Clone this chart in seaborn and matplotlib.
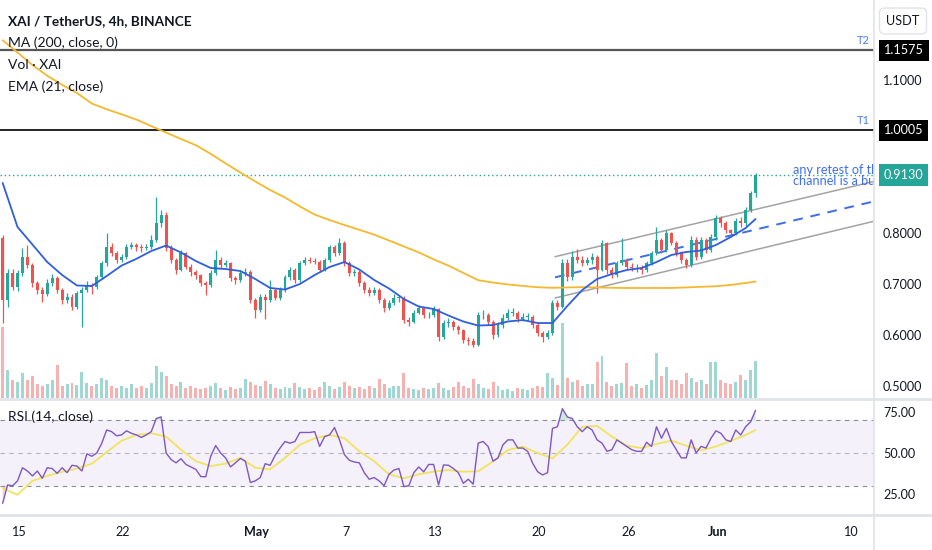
import numpy as np
import pandas as pd
import matplotlib
matplotlib.use("Agg")
import matplotlib.pyplot as plt
import matplotlib.transforms as mtransforms
from matplotlib.lines import Line2D
from matplotlib import font_manager
import seaborn as sns

# ---------------- data ----------------
FIRST_CANDLE = "2024-04-13 21:36"   # 8h candles
first_open = 0.789
closes = [
    0.668, 0.721, 0.694, 0.721, 0.752, 0.736, 0.701, 0.688, 0.680, 0.701,
    0.711, 0.688, 0.668, 0.674, 0.654, 0.681, 0.688, 0.697, 0.694, 0.713,
    0.740, 0.772, 0.760, 0.746, 0.752, 0.772, 0.776, 0.772, 0.770, 0.772,
    0.786, 0.819, 0.835, 0.770, 0.746, 0.727, 0.760, 0.733, 0.723, 0.717,
    0.701, 0.698, 0.721, 0.746, 0.736, 0.740, 0.711, 0.707, 0.721, 0.723,
    0.668, 0.648, 0.674, 0.668, 0.688, 0.672, 0.688, 0.713, 0.727, 0.707,
    0.740, 0.746, 0.744, 0.742, 0.727, 0.746, 0.772, 0.760, 0.780, 0.740,
    0.721, 0.723, 0.701, 0.688, 0.681, 0.688, 0.668, 0.652, 0.662, 0.672,
    0.672, 0.629, 0.625, 0.643, 0.652, 0.638, 0.638, 0.650, 0.596, 0.623,
    0.625, 0.615, 0.609, 0.590, 0.588, 0.580, 0.638, 0.638, 0.625, 0.599,
    0.619, 0.632, 0.643, 0.643, 0.630, 0.635, 0.635, 0.619, 0.603, 0.596,
    0.603, 0.662, 0.655, 0.740, 0.713, 0.752, 0.746, 0.740, 0.746, 0.752,
    0.727, 0.780, 0.727, 0.717, 0.740, 0.746, 0.733, 0.730, 0.730, 0.727,
    0.740, 0.760, 0.786, 0.766, 0.799, 0.780, 0.760, 0.746, 0.736, 0.786,
    0.752, 0.786, 0.766, 0.791, 0.828, 0.819, 0.805, 0.800, 0.823, 0.819,
    0.845, 0.877, 0.913,
]
highs = [
    0.795, 0.728, 0.728, 0.726, 0.770, 0.776, 0.740, 0.705, 0.694, 0.710,
    0.720, 0.716, 0.692, 0.682, 0.680, 0.686, 0.694, 0.705, 0.702, 0.718,
    0.745, 0.799, 0.780, 0.764, 0.758, 0.778, 0.782, 0.780, 0.778, 0.778,
    0.795, 0.870, 0.845, 0.840, 0.775, 0.750, 0.766, 0.762, 0.738, 0.727,
    0.720, 0.706, 0.726, 0.766, 0.752, 0.746, 0.742, 0.715, 0.726, 0.730,
    0.726, 0.672, 0.680, 0.680, 0.707, 0.692, 0.694, 0.718, 0.732, 0.730,
    0.745, 0.752, 0.752, 0.750, 0.746, 0.750, 0.776, 0.775, 0.789, 0.784,
    0.745, 0.728, 0.726, 0.706, 0.694, 0.694, 0.692, 0.672, 0.668, 0.680,
    0.678, 0.676, 0.634, 0.648, 0.658, 0.655, 0.644, 0.656, 0.652, 0.628,
    0.632, 0.628, 0.620, 0.612, 0.596, 0.594, 0.645, 0.648, 0.642, 0.628,
    0.624, 0.640, 0.650, 0.652, 0.646, 0.642, 0.642, 0.638, 0.622, 0.608,
    0.610, 0.668, 0.668, 0.748, 0.748, 0.764, 0.768, 0.754, 0.752, 0.760,
    0.756, 0.785, 0.782, 0.732, 0.745, 0.789, 0.750, 0.740, 0.738, 0.736,
    0.745, 0.765, 0.811, 0.790, 0.806, 0.802, 0.784, 0.764, 0.750, 0.794,
    0.792, 0.792, 0.790, 0.798, 0.834, 0.832, 0.822, 0.808, 0.828, 0.830,
    0.850, 0.882, 0.918,
]
lows = [
    0.623, 0.655, 0.688, 0.686, 0.715, 0.730, 0.694, 0.680, 0.664, 0.675,
    0.695, 0.682, 0.660, 0.662, 0.648, 0.650, 0.615, 0.684, 0.680, 0.690,
    0.710, 0.735, 0.755, 0.740, 0.742, 0.748, 0.768, 0.765, 0.762, 0.766,
    0.768, 0.782, 0.812, 0.765, 0.740, 0.720, 0.725, 0.728, 0.716, 0.710,
    0.696, 0.677, 0.694, 0.718, 0.730, 0.732, 0.705, 0.700, 0.704, 0.716,
    0.662, 0.633, 0.644, 0.630, 0.664, 0.668, 0.668, 0.684, 0.708, 0.702,
    0.703, 0.736, 0.740, 0.738, 0.722, 0.724, 0.742, 0.755, 0.756, 0.735,
    0.716, 0.715, 0.696, 0.682, 0.676, 0.677, 0.662, 0.645, 0.648, 0.658,
    0.664, 0.622, 0.618, 0.622, 0.640, 0.632, 0.632, 0.634, 0.588, 0.592,
    0.616, 0.610, 0.602, 0.584, 0.580, 0.576, 0.578, 0.630, 0.620, 0.592,
    0.596, 0.614, 0.628, 0.636, 0.625, 0.626, 0.628, 0.614, 0.598, 0.586,
    0.592, 0.600, 0.648, 0.652, 0.706, 0.708, 0.740, 0.734, 0.736, 0.738,
    0.681, 0.724, 0.720, 0.712, 0.714, 0.736, 0.728, 0.724, 0.722, 0.720,
    0.722, 0.736, 0.756, 0.760, 0.762, 0.775, 0.755, 0.740, 0.730, 0.733,
    0.746, 0.748, 0.760, 0.762, 0.785, 0.812, 0.800, 0.795, 0.796, 0.812,
    0.814, 0.840, 0.870,
]
volumes = [
    71, 28, 18, 16, 25, 18, 22, 14, 12, 14,
    18, 33, 12, 14, 15, 13, 26, 15, 12, 14,
    20, 18, 12, 10, 12, 10, 14, 10, 12, 10,
    15, 32, 26, 22, 14, 12, 16, 10, 12, 10,
    9, 10, 12, 15, 10, 8, 11, 9, 10, 19,
    16, 13, 12, 17, 14, 10, 9, 11, 10, 15,
    11, 9, 10, 8, 11, 16, 12, 9, 11, 16,
    12, 10, 11, 9, 12, 10, 19, 14, 10, 12,
    12, 25, 10, 9, 8, 10, 9, 10, 15, 10,
    8, 11, 16, 12, 10, 19, 14, 10, 9, 16,
    12, 8, 9, 7, 10, 9, 8, 10, 12, 11,
    25, 20, 13, 75, 20, 16, 18, 12, 14, 14,
    36, 42, 16, 12, 14, 15, 35, 12, 14, 10,
    13, 18, 45, 22, 31, 18, 18, 14, 25, 20,
    16, 18, 14, 36, 36, 18, 15, 14, 16, 23,
    18, 28, 37,
]
rsi = [
    19.3, 30.5, 30, 33, 41, 39, 36, 39, 34.6, 41,
    40.5, 37.6, 41, 38, 42.5, 42, 39, 49.5, 48, 50,
    55.9, 64, 63, 60.5, 61, 63.5, 62, 61, 59.5, 61,
    63, 71, 72, 50, 46, 44, 46.5, 43, 41.5, 40,
    35.6, 35.5, 48, 54.5, 50, 47, 41.5, 44, 46.7, 45,
    32, 33, 35, 43.5, 42.5, 48.5, 53, 57, 56, 57,
    62.5, 62.5, 62.5, 63, 54, 60, 61, 65.5, 58, 49,
    45.5, 44.5, 44, 38, 34, 35, 33, 30, 37, 39.6,
    40.5, 29.5, 30, 38, 41.5, 38.5, 43, 43, 30.5, 42.7,
    42.5, 40.5, 38, 31.5, 34, 31, 56, 57, 54, 45,
    47, 55, 58, 58, 53, 53, 51, 43.7, 38.6, 36.6,
    38, 65, 66, 77, 72, 71, 66, 63, 66, 64,
    58, 56, 51, 52, 58, 56, 54, 52, 51, 51,
    56.5, 54, 66, 59, 65, 57, 52, 47, 47, 58,
    50, 54, 53, 59, 63.5, 62, 58, 57, 64, 61,
    66, 69, 76,
]
# smooth indicator lines, one value per day (every 3rd candle) + last candle
ema21 = [
    0.8975, 0.8112, 0.7769, 0.7425, 0.7171, 0.6965, 0.6955, 0.7151, 0.7355, 0.7488,
    0.7641, 0.7749, 0.7612, 0.7445, 0.7308, 0.7288, 0.7249, 0.7092, 0.6916, 0.6886,
    0.6994, 0.7171, 0.7327, 0.7425, 0.7278, 0.7073, 0.6906, 0.6700, 0.6553, 0.6504,
    0.6376, 0.6259, 0.6180, 0.6190, 0.6259, 0.6288, 0.6229, 0.6229, 0.6563, 0.6876,
    0.7092, 0.7190, 0.7269, 0.7308, 0.7425, 0.7563, 0.7622, 0.7651, 0.7759, 0.7916,
    0.8092, 0.8268,
]
ma200 = [
    1.1773, 1.1535, 1.1288, 1.1078, 1.0900, 1.0739, 1.0533, 1.0420, 1.0322, 1.0218,
    1.0090, 0.9963, 0.9839, 0.9716, 0.9547, 0.9359, 0.9180, 0.9006, 0.8837, 0.8690,
    0.8516, 0.8355, 0.8249, 0.8151, 0.8057, 0.7963, 0.7847, 0.7731, 0.7614, 0.7478,
    0.7355, 0.7212, 0.7069, 0.7022, 0.6986, 0.6957, 0.6931, 0.6920, 0.6927, 0.6933,
    0.6927, 0.6920, 0.6916, 0.6916, 0.6916, 0.6916, 0.6927, 0.6939, 0.6951, 0.6976,
    0.7014, 0.7043,
]
rsi_ma = [
    28.5, 24.5, 33, 36, 38.5, 40.5, 43.5, 50.5, 57.5, 61,
    62, 60, 52, 45, 42, 43.5, 47, 41, 40, 47,
    55, 59, 61, 59, 51, 45, 37, 34.6, 37, 38.6,
    39.6, 38.6, 38.8, 44.9, 51.8, 53.9, 50, 46.7, 55, 66,
    66.5, 60, 54.5, 53, 55.5, 57.5, 54.5, 51.6, 54, 57.3,
    61, 64,
]
# drawn levels / channel
target_levels = [1.1575, 1.0005]
target_names = ["T2", "T1"]
last_price = 0.9130
channel_dates = ["2024-05-21 01:40", "2024-06-11 11:15"]
channel_upper = [0.753, 0.900]
channel_mid = [0.7125, 0.861]
channel_lower = [0.672, 0.822]
note_text = "any retest of the\nchannel is a buy"
note_date = "2024-06-06 02:10"
note_price = 0.9125
price_ticks = [0.5, 0.6, 0.7, 0.8, 1.1]
rsi_ticks = [25, 50, 75]
date_ticks = ["2024-04-15", "2024-04-22", "2024-05-01", "2024-05-07", "2024-05-13",
              "2024-05-20", "2024-05-26", "2024-06-01", "2024-06-10"]
date_labels = ["15", "22", "May", "7", "13", "20", "26", "Jun", "10"]
x_range = ["2024-04-13 17:18", "2024-06-11 12:53"]
price_range = (0.4759, 1.2563)
rsi_range = (12.8, 82.3)

# ---------------- style ----------------
sns.set_theme(style="white")
names = {f.name for f in font_manager.fontManager.ttflist}
NARROW = "Liberation Sans Narrow" in names
FONT = "Liberation Sans Narrow" if NARROW else "Lato"
plt.rcParams["font.family"] = [FONT, "DejaVu Sans"]
k = 1.0 if NARROW else 0.88
TXT = "#131722"
UP, DN = "#26a69a", "#ef5350"

W, H = 932, 550
fig = plt.figure(figsize=(W / 100, H / 100), dpi=100)
fig.patch.set_facecolor("white")
PX = 874  # plot area width
ax = fig.add_axes([0, (H - 398) / H, PX / W, 398 / H])
axv = ax.twinx()
axr = fig.add_axes([0, (H - 514) / H, PX / W, 114 / H])

times = pd.date_range(FIRST_CANDLE, periods=len(closes), freq="8h")
c = np.array(closes)
o = np.array([first_open] + closes[:-1])
hi = np.maximum(np.array(highs), np.maximum(o, c))
lo = np.minimum(np.array(lows), np.minimum(o, c))
up = c >= o
cols = np.where(up, UP, DN)
line_times = list(times[::3]) + [times[-1]]

# volume (behind)
axv.bar(times, volumes, width=0.2, color=np.where(up, "#9fd8d2", "#f7b1b0"), linewidth=0)
axv.set_ylim(0, 398)
axv.set_yticks([])
for s in axv.spines.values():
    s.set_visible(False)
ax.set_zorder(axv.get_zorder() + 1)
ax.patch.set_visible(False)

# candles
ax.vlines(times, lo, hi, colors=cols, linewidth=0.9, zorder=3)
ax.bar(times, np.maximum(np.abs(c - o), 0.0015), bottom=np.minimum(o, c), width=0.2,
       color=cols, linewidth=0, zorder=3)

# indicators
sns.lineplot(x=line_times, y=ma200, ax=ax, color="#f5b82e", linewidth=1.3, zorder=4)
sns.lineplot(x=line_times, y=ema21, ax=ax, color="#2f5ee0", linewidth=1.3, zorder=4)

# channel
cd = pd.to_datetime(channel_dates)
sns.lineplot(x=cd, y=channel_upper, ax=ax, color="#a3a3a3", linewidth=1.1, zorder=2)
sns.lineplot(x=cd, y=channel_lower, ax=ax, color="#a3a3a3", linewidth=1.1, zorder=2)
sns.lineplot(x=cd, y=channel_mid, ax=ax, color="#3c6ee6", linewidth=1.4, zorder=2,
             linestyle=(0, (5, 4)))

# target lines and last price
blend = mtransforms.blended_transform_factory(ax.transAxes, ax.transData)
for lvl, nm, lc, lw in zip(target_levels, target_names, ["#555555", "#111111"], [1.6, 1.3]):
    ax.axhline(lvl, color=lc, linewidth=lw, zorder=2)
    ax.annotate(nm, xy=(857 / PX, lvl), xycoords=blend, xytext=(0, 3.5),
                textcoords="offset points", ha="left", va="bottom",
                color="#4a7ff0", fontsize=9 * k)
    ax.text(1 + 10 / PX, lvl, f"{lvl:.4f}", transform=blend, ha="left", va="center",
            color="white", fontsize=10.3 * k, clip_on=False, zorder=10,
            bbox=dict(boxstyle="square,pad=0.38", fc="#000000", ec="none"))
ax.axhline(last_price, color="#26a69a", linewidth=1.0, linestyle=(0, (1, 2)), zorder=2)
ax.text(1 + 10 / PX, last_price, f"{last_price:.4f}", transform=blend, ha="left",
        va="center", color="white", fontsize=10.3 * k, clip_on=False, zorder=10,
        bbox=dict(boxstyle="square,pad=0.38", fc="#26a69a", ec="none"))

ax.text(pd.Timestamp(note_date), note_price, note_text, color="#3d6ff0",
        fontsize=10.3 * k, ha="left", va="center", linespacing=0.95,
        clip_on=True, zorder=5)

ax.set_xlim(pd.Timestamp(x_range[0]), pd.Timestamp(x_range[1]))
ax.set_ylim(*price_range)
ax.yaxis.tick_right()
ax.set_yticks(price_ticks)
ax.set_yticklabels([f"{v:.4f}" for v in price_ticks])
ax.tick_params(axis="y", length=0, pad=6.5, labelsize=10.3 * k, labelcolor=TXT)
ax.set_xticks([])
ax.set_xlabel("")
ax.set_ylabel("")
for s in ax.spines.values():
    s.set_visible(False)

# RSI panel
axr.axhspan(30, 70, color="#7e57c2", alpha=0.08, linewidth=0)
for lvl, a in zip([70, 50, 30], [1.0, 0.6, 1.0]):
    axr.axhline(lvl, color="#8a8d96", linewidth=0.8, linestyle=(0, (4, 4)), alpha=a)
r = np.array(rsi, dtype=float)
axr.fill_between(times, r, 30, where=r < 30, interpolate=True, color="#f4a3b6", alpha=0.55,
                 linewidth=0)
axr.fill_between(times, r, 70, where=r > 70, interpolate=True, color="#9fd8b4", alpha=0.5,
                 linewidth=0)
sns.lineplot(x=line_times, y=rsi_ma, ax=axr, color="#f2e35f", linewidth=1.3)
sns.lineplot(x=times, y=rsi, ax=axr, color="#7e57c2", linewidth=1.0)
axr.set_xlim(pd.Timestamp(x_range[0]), pd.Timestamp(x_range[1]))
axr.set_ylim(*rsi_range)
axr.yaxis.tick_right()
axr.set_yticks(rsi_ticks)
axr.set_yticklabels([f"{v:.2f}" for v in rsi_ticks])
axr.set_xticks(pd.to_datetime(date_ticks))
axr.set_xticklabels(date_labels)
for lab in axr.get_xticklabels():
    if lab.get_text() in ("May", "Jun"):
        lab.set_fontweight("bold")
axr.tick_params(axis="both", length=0, labelsize=10.3 * k, labelcolor=TXT)
axr.tick_params(axis="y", pad=6.5)
axr.tick_params(axis="x", pad=9)
axr.set_xlabel("")
axr.set_ylabel("")
for s in axr.spines.values():
    s.set_visible(False)

# panel separators
SEP = "#e0e3eb"
fig.add_artist(Line2D([0, 1], [(H - 399) / H] * 2, color=SEP, linewidth=2))
fig.add_artist(Line2D([0, 1], [(H - 515) / H] * 2, color=SEP, linewidth=2))
fig.add_artist(Line2D([PX / W] * 2, [0, 1], color=SEP, linewidth=1.2))

# legend texts
fig.text(8 / W, 1 - 21 / H, "XAI / TetherUS, 4h, BINANCE", fontsize=11.1 * k,
         fontweight="bold", color=TXT, va="center", ha="left")
for yy, t in [(43, "MA (200, close, 0)"), (65, "Vol · XAI"), (87, "EMA (21, close)")]:
    fig.text(8 / W, 1 - yy / H, t, fontsize=11.4 * k, color=TXT, va="center", ha="left")
fig.text(8 / W, 1 - 417 / H, "RSI (14, close)", fontsize=11.4 * k, color=TXT,
         va="center", ha="left")
fig.text(903 / W, 1 - 21 / H, "USDT", fontsize=10.3 * k, color=TXT, va="center",
         ha="center", bbox=dict(boxstyle="round,pad=0.55,rounding_size=0.4", fc="white",
                                ec=SEP, linewidth=1))

fig.savefig("out.png", dpi=100, facecolor="white")
